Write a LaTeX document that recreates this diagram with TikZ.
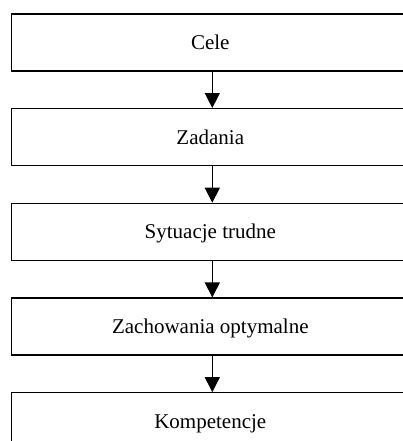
\documentclass[tikz,border=0pt]{standalone}
\usepackage{fontspec}
\setmainfont{Liberation Serif}
\usetikzlibrary{arrows.meta}
\begin{document}
\begin{tikzpicture}[x=1pt,y=1pt,
  stagebox/.style={draw=black, line width=1.3pt, minimum width=397.6pt, minimum height=57pt,
    inner sep=0pt, text height=14.2pt, text depth=0pt,
    font=\fontsize{21}{25}\selectfont},
  flowarrow/.style={line width=1.3pt, -{Triangle[width=15pt,length=15pt]}}]
\useasboundingbox (0,0) rectangle (402,441);
\node[stagebox] (cele) at (210.3,398.5) {Cele};
\node[stagebox] (zadania) at (210.3,303.8) {Zadania};
\node[stagebox] (sytuacje) at (210.3,209.1) {Sytuacje trudne};
\node[stagebox] (zachowania) at (210.3,114.4) {Zachowania optymalne};
\node[stagebox] (kompetencje) at (210.3,19.7) {Kompetencje};
\draw[flowarrow] ([xshift=2pt]cele.south) -- ([xshift=2pt]zadania.north);
\draw[flowarrow] ([xshift=2pt]zadania.south) -- ([xshift=2pt]sytuacje.north);
\draw[flowarrow] ([xshift=2pt]sytuacje.south) -- ([xshift=2pt]zachowania.north);
\draw[flowarrow] ([xshift=2pt]zachowania.south) -- ([xshift=2pt]kompetencje.north);
\end{tikzpicture}
\end{document}
